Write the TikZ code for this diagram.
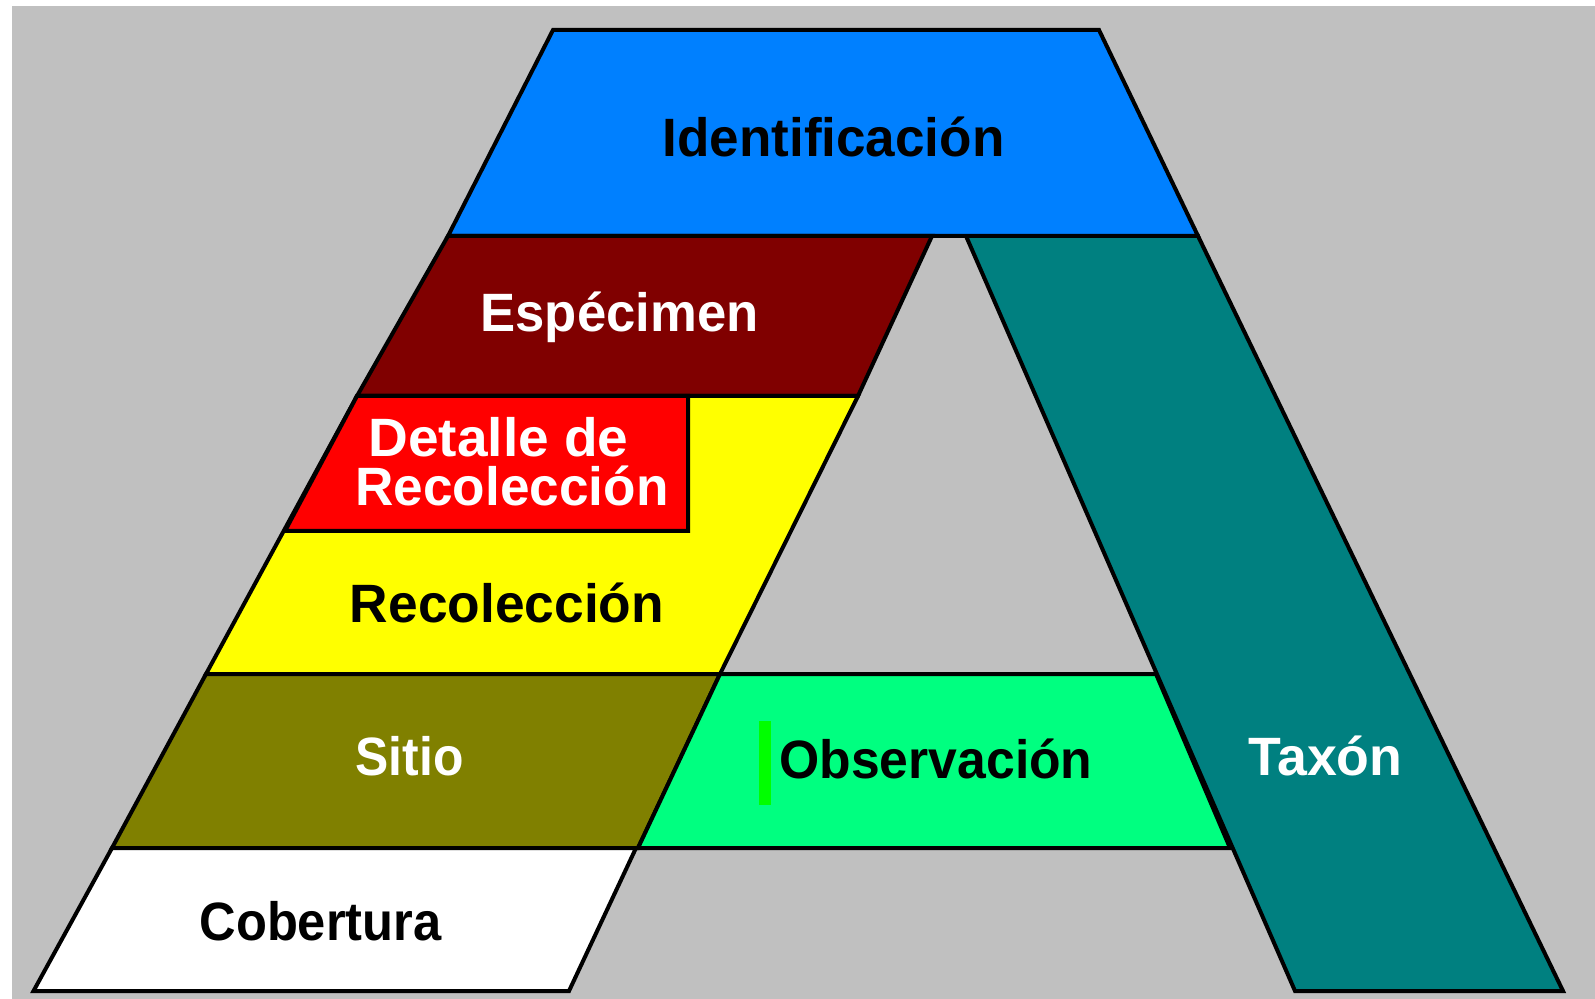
\documentclass[tikz,border=0pt]{standalone}
\usepackage{fontspec}
\setmainfont{Liberation Sans}
\usepackage{graphicx}
\definecolor{bggray}{HTML}{C0C0C0}
\definecolor{identblue}{HTML}{0080FF}
\definecolor{especred}{HTML}{800000}
\definecolor{detred}{HTML}{FF0000}
\definecolor{recyellow}{HTML}{FFFF00}
\definecolor{sitolive}{HTML}{808000}
\definecolor{obsgreen}{HTML}{00FF80}
\definecolor{barGreen}{HTML}{00FF00}
\definecolor{taxteal}{HTML}{008080}
\newcommand{\lbl}[2]{\resizebox{#1pt}{\height}{\fontsize{27pt}{30pt}\selectfont\bfseries #2}}
\tikzset{
  layer/.style={draw=black, line width=2pt, line join=miter},
  lab/.style={inner sep=0pt, anchor=base}
}
\begin{document}
\begin{tikzpicture}[x=0.5pt,y=-0.5pt]
\useasboundingbox (0,0) rectangle (1595,999);
\fill[white] (0,0) rectangle (1595,999);
\fill[bggray] (12,6) rectangle (1595,999);
% Taxon band
\filldraw[layer, fill=taxteal] (966,236) -- (1198,236) -- (1563,991) -- (1295,991) -- cycle;
% Identificacion
\filldraw[layer, fill=identblue] (553,30) -- (1099,30) -- (1198,236) -- (448,236) -- cycle;
% Especimen
\filldraw[layer, fill=especred] (448,236) -- (932,236) -- (858,396) -- (357,396) -- cycle;
% Recoleccion
\filldraw[layer, fill=recyellow] (357,396) -- (858,396) -- (720,674) -- (206,674) -- cycle;
% Detalle de Recoleccion
\filldraw[layer, fill=detred] (357,396) -- (688,396) -- (688,531) -- (285,531) -- cycle;
% Sitio
\filldraw[layer, fill=sitolive] (206,674) -- (720,674) -- (638,848) -- (112,848) -- cycle;
% Observacion
\filldraw[layer, fill=obsgreen] (720,674) -- (1156,674) -- (1230,848) -- (638,848) -- cycle;
\fill[barGreen] (758.5,721) rectangle (771,805);
% Cobertura
\filldraw[layer, fill=white] (112,848) -- (636,848) -- (569,991) -- (33.5,991) -- cycle;
% Labels
\node[lab, text=black] (ident) at (833.5,157) {\lbl{171}{Identificación}};
\node[lab, text=white] (espec) at (619.5,332) {\lbl{139}{Espécimen}};
\node[lab, text=white] (det1) at (498.5,456.5) {\lbl{130}{Detalle de}};
\node[lab, text=white] (det2) at (512,505.5) {\lbl{156.5}{Recolección}};
\node[lab, text=black] (recol) at (507,622) {\lbl{157}{Recolección}};
\node[lab, text=white] (sitio) at (409.5,775) {\lbl{54}{Sitio}};
\node[lab, text=black] (obs) at (936,778) {\lbl{156.5}{Observación}};
\node[lab, text=white] (taxon) at (1325.5,775) {\lbl{77}{Taxón}};
\node[lab, text=black] (cob) at (320.5,940) {\lbl{121}{Cobertura}};
\end{tikzpicture}
\end{document}
